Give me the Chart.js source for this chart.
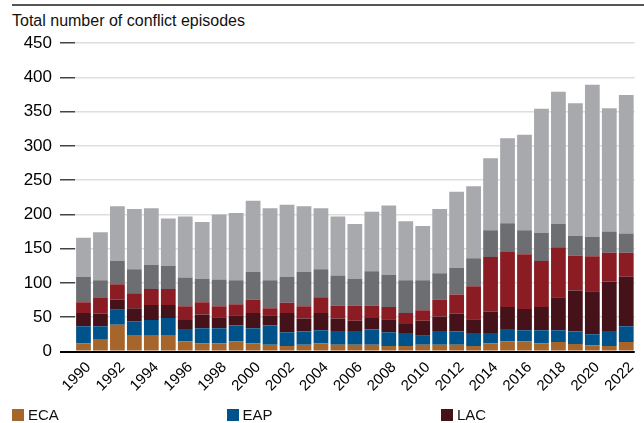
<!DOCTYPE html>
<html>
<head>
<meta charset="utf-8">
<script src="https://cdn.jsdelivr.net/npm/chart.js@4.4.1/dist/chart.umd.min.js"></script>
<style>
  html, body { margin: 0; padding: 0; background: #fff; }
  #wrap { position: relative; width: 644px; height: 423px; overflow: hidden; }
  #topline { position: absolute; left: 12px; top: 4px; width: 640px; height: 2px; background: #555; }
  #titre { position: absolute; left: 12px; top: 12px; font: 16px "Liberation Sans", Arial, sans-serif; line-height: 18px; color: #111; }
  #graf { position: absolute; left: 0; top: 0; }
  #legende { position: absolute; left: 0; top: 406px; width: 644px; display: grid; grid-template-columns: 214.5px 214.5px 214.5px; row-gap: 8px; }
  .item { font: 15px "Liberation Sans", sans-serif; line-height: 18px; color: #111; padding-left: 12px; white-space: nowrap; }
  .item span { display: inline-block; width: 12px; height: 12px; margin-right: 4px; vertical-align: -1px; }
</style>
</head>
<body>
<div id="wrap">
  <div id="topline"></div>
  <div id="titre">Total number of conflict episodes</div>
  <canvas id="graf" width="646" height="423" style="width:646px;height:423px"></canvas>
  <div id="legende"></div>
</div>
<script>
let anos = []
for (let a = 1990; a <= 2022; a++) anos.push(String(a))

let regioes = ['ECA', 'EAP', 'LAC', 'MENA', 'SAR', 'SSA']
let cores = ['#A6652A', '#00528A', '#45121A', '#8B1C23', '#6D6E71', '#A7A9AC']

let eca  = [12,17,39,24,23,24,15,12,12,15,12,10,8,10,12,10,10,10,8,8,10,10,10,8,12,15,15,12,14,11,9,8,14]
let eap  = [25,20,22,20,23,25,18,22,22,23,22,28,20,19,19,20,20,22,20,19,13,20,19,19,15,18,16,19,17,18,16,22,23]
let lac  = [19,18,15,19,22,19,13,20,16,15,22,15,28,19,25,18,15,17,19,13,22,21,26,20,31,32,31,34,48,60,63,72,72]
let mena = [16,23,22,22,23,23,20,18,16,16,20,10,15,18,23,19,22,18,18,16,15,25,28,48,80,80,80,67,73,51,51,42,35]
let sar  = [37,26,34,35,35,34,42,34,39,35,40,41,38,50,41,44,39,50,47,48,44,38,39,41,39,42,35,41,34,29,28,31,28]
let ssa  = [57,70,80,88,83,69,89,83,95,98,104,105,105,96,89,86,80,87,101,86,79,94,111,105,105,124,139,181,193,193,222,180,202]

let series = [eca, eap, lac, mena, sar, ssa]

// legenda em html, 3 colunas (a segunda linha fica fora da janela)
let legenda = document.getElementById('legende')
regioes.forEach((r, i) => {
    legenda.innerHTML += `<div class="item"><span style="background:${cores[i]}"></span>${r}</div>`
})

const data = {
    labels: anos,
    datasets: series.map((s, i) => ({
        label: regioes[i],
        data: s,
        backgroundColor: cores[i],
        borderWidth: 0,
        categoryPercentage: 1,
        barPercentage: 0.87
    }))
}

const config = {
    type: 'bar',
    data: data,
    options: {
        responsive: false,
        animation: false,
        layout: { padding: { top: 43, right: 1, left: 0, bottom: 0 } },
        plugins: {
            legend: { display: false },
            title: { display: false },
            tooltip: { enabled: false }
        },
        scales: {
            x: {
                stacked: true,
                grid: { display: false, drawTicks: false },
                border: { display: false },
                ticks: {
                    autoSkip: false,
                    maxRotation: 45,
                    minRotation: 45,
                    padding: 7,
                    labelOffset: 5,
                    color: '#000',
                    font: { family: '"Liberation Sans", Arial, sans-serif', size: 15 },
                    callback: (v, i) => i % 2 === 0 ? anos[i] : ''
                },
                afterFit: (scale) => { scale.height = 71.5 }
            },
            y: {
                stacked: true,
                min: 0,
                max: 450,
                grid: {
                    color: (c) => c.tick && c.tick.value === 0 ? '#000' : '#dedede',
                    tickColor: (c) => c.tick && c.tick.value === 0 ? '#000' : '#444',
                    lineWidth: (c) => c.tick && c.tick.value === 0 ? 2 : 1.5,
                    tickLength: 15
                },
                border: { display: false },
                ticks: {
                    stepSize: 50,
                    padding: 8,
                    color: '#000',
                    font: { family: '"Liberation Sans", Arial, sans-serif', size: 17 }
                },
                afterFit: (scale) => { scale.width = 75 }
            }
        }
    }
}

let ctx = document.getElementById('graf').getContext('2d')
new Chart(ctx, config)
</script>
</body>
</html>
